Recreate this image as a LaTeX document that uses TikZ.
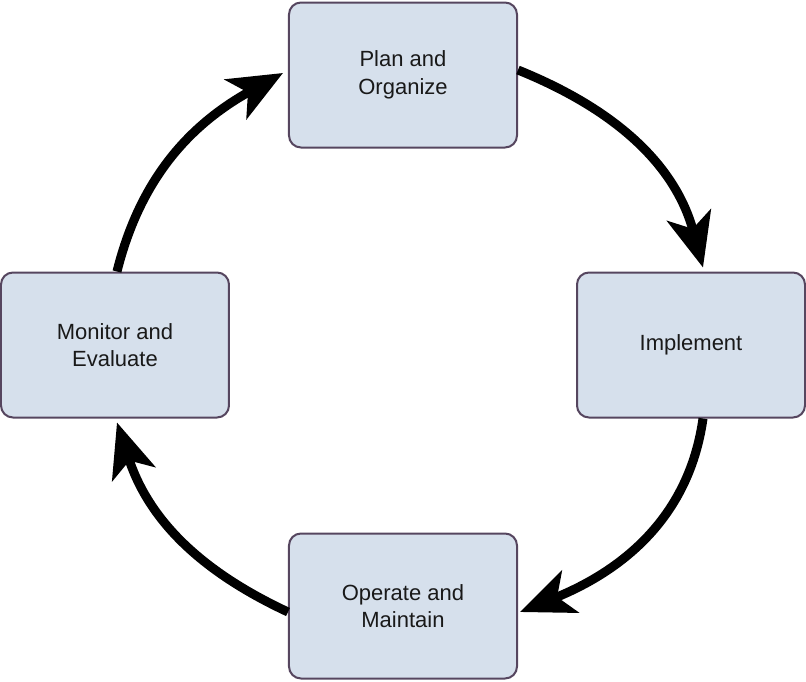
\documentclass[tikz,border=0pt]{standalone}
\usepackage{fontspec}
\setmainfont{Liberation Sans}
\usepackage{tikz}
\usetikzlibrary{arrows.meta,positioning}
\definecolor{boxfill}{HTML}{D6E0EC}
\definecolor{boxline}{HTML}{56465F}
\tikzset{
    %Define standard arrow tip
    >={Stealth[length=54pt,width=45pt,inset=14pt]},
    %Define style for boxes
    stage/.style={
           rectangle,
           rounded corners=12pt,
           draw=boxline, line width=2pt,
           fill=boxfill,
           minimum width=228pt,
           minimum height=145pt,
           align=center,
           text=black!90,
           font=\fontsize{22}{27.5}\selectfont},
    % Define arrow style
    cyc/.style={
           ->,
           line width=9pt,
           black}
}
\begin{document}
\begin{tikzpicture}[x=1pt,y=1pt,node distance=123pt and 58pt]
\useasboundingbox (-403,-606) rectangle (403,75);
 %nodes

\node[stage](plan){Plan and\\Organize};
\node[stage, below right=of plan](impl){Implement};
\node[stage, below left=of plan](mon){Monitor and\\Evaluate};
\node[stage, below=384pt of plan](oper){Operate and\\Maintain};

 \path
    ([yshift=5pt]plan.east) edge [cyc, out=-22, in=105] ([xshift=12pt,yshift=4pt]impl.north)
    ([xshift=12pt]impl.south) edge [cyc, out=-98, in=22] ([xshift=2pt,yshift=-6pt]oper.east)
    ([yshift=-6pt]oper.west) edge [cyc, out=155, in=-72] ([xshift=2pt,yshift=-4pt]mon.south)
    ([xshift=2pt]mon.north) edge [cyc, out=76, in=-151] ([xshift=-5pt,yshift=2pt]plan.west);
\end{tikzpicture}
\end{document}
